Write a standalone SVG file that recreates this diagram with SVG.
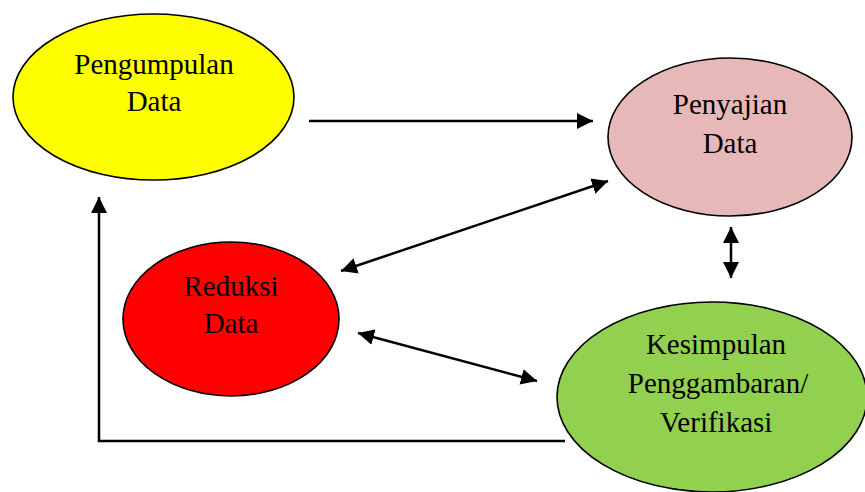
<svg xmlns="http://www.w3.org/2000/svg" width="865" height="492" viewBox="0 0 865 492">
<style>
.node ellipse{stroke:#000;stroke-width:1.6}
.node text{font-family:"Liberation Serif","Times New Roman",serif;font-size:29px;fill:#000;text-anchor:middle}
.conn{stroke:#000;stroke-width:2.5;fill:none}
</style>
<defs>
<marker id="ah" markerUnits="userSpaceOnUse" markerWidth="18" markerHeight="16" viewBox="0 0 18 16" refX="16" refY="8" orient="auto-start-reverse">
<path d="M0,0 L16,8 L0,16 Z" fill="#000"/>
</marker>
</defs>
<rect width="865" height="492" fill="#fff"/>
<g id="connectors">
<path class="conn" d="M309,121 H593" marker-end="url(#ah)"/>
<path class="conn" d="M341,271 L608,181" marker-start="url(#ah)" marker-end="url(#ah)"/>
<path class="conn" d="M358,333 L537,381" marker-start="url(#ah)" marker-end="url(#ah)"/>
<path class="conn" d="M731,227 V278" marker-start="url(#ah)" marker-end="url(#ah)"/>
<path class="conn" d="M565,441 H99 V197" marker-end="url(#ah)"/>
</g>
<g id="pengumpulan" class="node">
<ellipse cx="153.5" cy="97" rx="140.5" ry="83" fill="#FFFF00"/>
<text x="154" y="74">Pengumpulan</text>
<text x="154" y="111">Data</text>
</g>
<g id="penyajian" class="node">
<ellipse cx="730" cy="137" rx="122" ry="79" fill="#E6B9B8"/>
<text x="730" y="114">Penyajian</text>
<text x="730" y="153">Data</text>
</g>
<g id="reduksi" class="node">
<ellipse cx="231" cy="319" rx="108" ry="77" fill="#FF0000"/>
<text x="231" y="296">Reduksi</text>
<text x="231" y="333">Data</text>
</g>
<g id="kesimpulan" class="node">
<ellipse cx="712" cy="397" rx="155" ry="95" fill="#92D050"/>
<text x="716" y="354">Kesimpulan</text>
<text x="718" y="393">Penggambaran/</text>
<text x="716" y="432">Verifikasi</text>
</g>
</svg>
